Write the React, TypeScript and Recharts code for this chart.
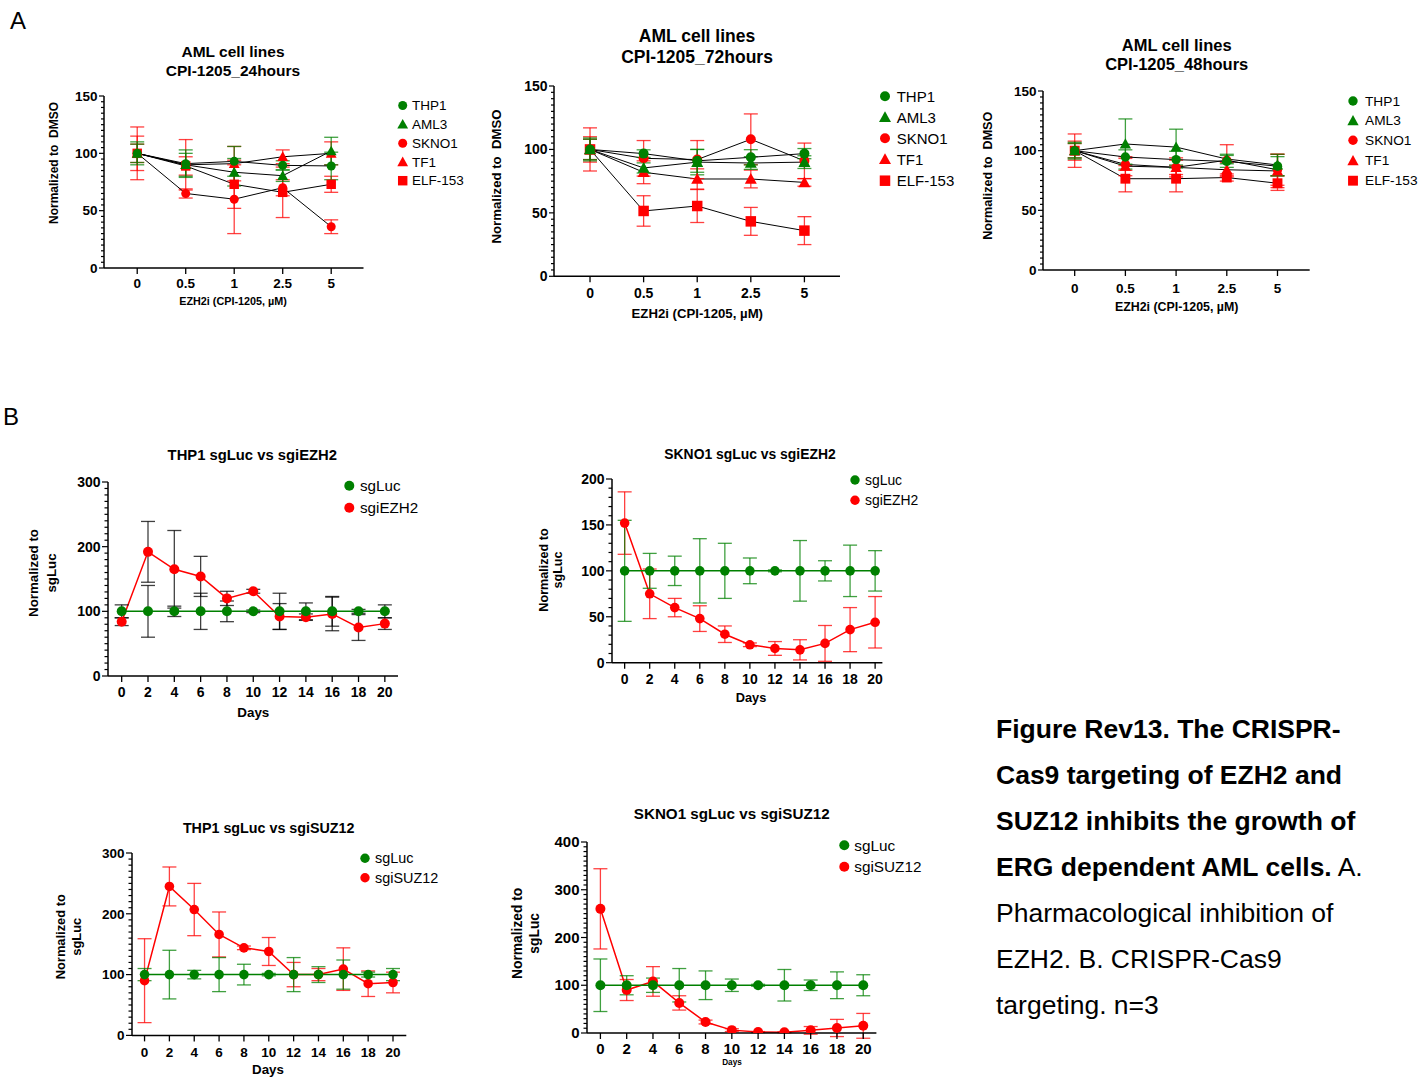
import React from "react";
import { LineChart, Line, XAxis, YAxis, ErrorBar } from "recharts";

const FONT = "'Liberation Sans', Arial, Helvetica, sans-serif";
const GREEN = "#008000";
const RED = "#ff0000";

// ---- A: CPI-1205 dose response ----
const DOSES = ["0", "0.5", "1", "2.5", "5"];
const CELL_LINES = ["THP1", "AML3", "SKNO1", "TF1", "ELF-153"];

const H24_THP1 = [100, 91, 93, 89.5, 89];
const H24_THP1_SD = [10, 12, 13, 4, 12];
const H24_AML3 = [100, 90, 83.5, 80.5, 102];
const H24_AML3_SD = [8, 10, 12, 5, 12];
const H24_SKNO1 = [100, 65, 60, 70, 36];
const H24_SKNO1_SD = [23, 4, 30, 7, 6];
const H24_TF1 = [100, 90, 91, 97, 100];
const H24_TF1_SD = [15, 22, 15, 6, 10];
const H24_ELF = [100, 89, 73, 66, 73];
const H24_ELF_SD = [8, 8, 21, 22, 7];

const H72_THP1 = [100, 96.7, 91, 93.8, 96.7];
const H72_THP1_SD = [8, 3, 9, 6, 4];
const H72_AML3 = [100, 85.4, 90, 89.3, 90];
const H72_AML3_SD = [9, 4, 10, 5, 5];
const H72_SKNO1 = [100, 93, 92, 108, 91];
const H72_SKNO1_SD = [17, 14, 15, 20, 14];
const H72_TF1 = [100, 82, 76.7, 76.7, 74];
const H72_TF1_SD = [10, 9, 8, 7, 3];
const H72_ELF = [100, 51.5, 55.4, 43.3, 36];
const H72_ELF_SD = [8, 12, 13, 11, 11];

const H48_THP1 = [100, 94.7, 92.5, 91, 87];
const H48_THP1_SD = [6, 6, 7, 5, 8];
const H48_AML3 = [100, 105.6, 103, 93, 88];
const H48_AML3_SD = [7, 21, 15, 4, 9];
const H48_SKNO1 = [100, 88.5, 86, 92, 84];
const H48_SKNO1_SD = [14, 5, 6, 13, 13];
const H48_TF1 = [100, 87, 86, 84, 83];
const H48_TF1_SD = [8, 8, 8, 6, 14];
const H48_ELF = [100, 76.5, 76.5, 77.5, 72.7];
const H48_ELF_SD = [6, 11, 11, 3, 6];

// ---- B: CRISPR time courses ----
const DAYS = [0, 2, 4, 6, 8, 10, 12, 14, 16, 18, 20];

const THP1_EZH2_LUC = [100, 100, 100, 100, 100, 100, 100, 100, 100, 100, 100];
const THP1_EZH2_LUC_SD = [10, 40, 8, 28, 16, 2, 28, 13, 23, 3, 10];
const THP1_EZH2_SG = [84, 192, 165, 154, 120, 131, 92, 91, 96, 75, 81];
const THP1_EZH2_SG_SD = [6, 47, 60, 31, 11, 3, 20, 5, 26, 20, 9];

const SKNO1_EZH2_LUC = [100, 100, 100, 100, 100, 100, 100, 100, 100, 100, 100];
const SKNO1_EZH2_LUC_SD = [55, 19, 16, 35, 30, 14, 1, 33, 11, 28, 22];
const SKNO1_EZH2_SG = [152, 75, 60, 48, 31, 19.5, 15.5, 14, 21, 36, 44];
const SKNO1_EZH2_SG_SD = [34, 27, 10, 14, 9, 2, 7.5, 11, 19.5, 24, 28];

const THP1_SUZ12_LUC = [100, 100, 100, 100, 100, 100, 100, 100, 100, 100, 100];
const THP1_SUZ12_LUC_SD = [10, 40, 7, 28, 17, 2, 28, 13, 24, 4, 10];
const THP1_SUZ12_SG = [90, 245, 207, 166, 144, 138, 100, 100, 109, 85, 87];
const THP1_SUZ12_SG_SD = [69, 32, 43, 37, 3, 23, 20, 10, 35, 21, 17];

const SKNO1_SUZ12_LUC = [100, 100, 100, 100, 100, 100, 100, 100, 100, 100, 100];
const SKNO1_SUZ12_LUC_SD = [55, 20, 15, 35, 30, 13, 2, 33, 11, 28, 22];
const SKNO1_SUZ12_SG = [260, 90, 108, 63, 23, 6, 2, 1.5, 5.5, 10.5, 15];
const SKNO1_SUZ12_SG_SD = [84, 22, 31, 15, 4, 3, 1, 1, 8, 18, 26];

type Shape = "circle" | "triangle" | "square";
type Style = { color: string; shape: Shape };

const CELL_STYLES: Style[] = [
  { color: GREEN, shape: "circle" },
  { color: GREEN, shape: "triangle" },
  { color: RED, shape: "circle" },
  { color: RED, shape: "triangle" },
  { color: RED, shape: "square" },
];
const SG_STYLES: Style[] = [
  { color: GREEN, shape: "circle" },
  { color: RED, shape: "circle" },
];

function buildRows(xs: number[], vals: number[][], sds: number[][]) {
  return xs.map((x, i) => {
    const row: Record<string, number> = { x };
    vals.forEach((v, k) => {
      row["v" + k] = v[i];
      row["e" + k] = sds[k][i];
    });
    return row;
  });
}

function Marker({ cx, cy, shape, color, r }: { cx: number; cy: number; shape: Shape; color: string; r: number }) {
  if (cx == null || cy == null || isNaN(cx) || isNaN(cy)) return null;
  if (shape === "triangle") {
    const h = r * 1.2;
    return <polygon points={`${cx},${cy - h} ${cx - h},${cy + h * 0.8} ${cx + h},${cy + h * 0.8}`} fill={color} />;
  }
  if (shape === "square") {
    const h = r * 1.05;
    return <rect x={cx - h} y={cy - h} width={2 * h} height={2 * h} fill={color} />;
  }
  return <circle cx={cx} cy={cy} r={r} fill={color} />;
}

function YTick(props: any) {
  const { x, y, payload, major, fontSize, majorLen, minorLen } = props;
  const v = payload.value;
  const isMajor = Math.abs(v % major) < 1e-6;
  const len = isMajor ? majorLen : minorLen;
  return (
    <g>
      <line x1={x - len} x2={x} y1={y} y2={y} stroke="#000" strokeWidth={1.2} />
      {isMajor && (
        <text x={x - len - 1.5} y={y} dy="0.35em" textAnchor="end" fontSize={fontSize} fontWeight="bold" fontFamily={FONT} fill="#000">
          {v}
        </text>
      )}
    </g>
  );
}

type Box = { L: number; T: number; R: number; B: number };

type PlotProps = {
  box: Box;
  xDomain: [number, number];
  xTicks: number[];
  xFmt: (v: number) => string;
  yMax: number;
  yStep: number;
  yMajor: number;
  tickFont: number;
  tickGap: number;
  majorLen: number;
  minorLen: number;
  rows: Record<string, number>[];
  styles: Style[];
  r: number;
  lineColors: string[];
  lineWidth: number;
  errColors: string[];
};

function Plot(p: PlotProps) {
  const YW = 60, XH = 40, MT = 8, MR = 8;
  const w = p.box.R - p.box.L;
  const h = p.box.B - p.box.T;
  const yTicks: number[] = [];
  for (let v = 0; v <= p.yMax + 1e-6; v += p.yStep) yTicks.push(v);
  const order = p.styles.map((_, i) => i).reverse();
  return (
    <div style={{ position: "absolute", left: p.box.L - YW, top: p.box.T - MT }}>
      <LineChart width={w + YW + MR} height={h + MT + XH} data={p.rows} margin={{ top: MT, right: MR, left: 0, bottom: 0 }}>
        <XAxis
          type="number"
          dataKey="x"
          domain={p.xDomain}
          allowDataOverflow
          ticks={p.xTicks}
          interval={0}
          tickFormatter={p.xFmt}
          height={XH}
          axisLine={{ stroke: "#000", strokeWidth: 1.5 }}
          tickLine={{ stroke: "#000", strokeWidth: 1.3 }}
          tickSize={6}
          tickMargin={p.tickGap}
          tick={{ fill: "#000", fontSize: p.tickFont, fontWeight: "bold", fontFamily: FONT }}
        />
        <YAxis
          type="number"
          domain={[0, p.yMax]}
          allowDataOverflow
          ticks={yTicks}
          interval={0}
          width={YW}
          axisLine={{ stroke: "#000", strokeWidth: 1.5 }}
          tickLine={false}
          tickSize={0}
          tickMargin={0}
          tick={(t: any) => (
            <YTick {...t} major={p.yMajor} fontSize={p.tickFont} majorLen={p.majorLen} minorLen={p.minorLen} />
          )}
        />
        {order.map((k) => (
          <Line
            key={"l" + k}
            dataKey={"v" + k}
            stroke={p.lineColors[k]}
            strokeWidth={p.lineWidth}
            dot={false}
            activeDot={false}
            isAnimationActive={false}
          >
            <ErrorBar
              dataKey={"e" + k}
              width={7}
              stroke={p.errColors[k]}
              strokeWidth={1.3}
              strokeOpacity={0.75}
              direction="y"
              isAnimationActive={false}
            />
          </Line>
        ))}
        {order.map((k) => (
          <Line
            key={"d" + k}
            dataKey={"v" + k}
            stroke="none"
            strokeWidth={0}
            activeDot={false}
            isAnimationActive={false}
            dot={(d: any) => (
              <Marker key={`m${k}-${d.index}`} cx={d.cx} cy={d.cy} shape={p.styles[k].shape} color={p.styles[k].color} r={p.r} />
            )}
          />
        ))}
      </LineChart>
    </div>
  );
}

function T({ x, y, size, bold = true, anchor = "middle", rotate = false, children }: any) {
  return (
    <text
      x={x}
      y={y}
      dy="0.35em"
      fontSize={size}
      fontWeight={bold ? "bold" : "normal"}
      textAnchor={anchor}
      fontFamily={FONT}
      fill="#000"
      style={{ whiteSpace: "pre" }}
      transform={rotate ? `rotate(-90 ${x} ${y})` : undefined}
    >
      {children}
    </text>
  );
}

function LegendBox({ names, styles, mx, tx, ys, size, r }: { names: string[]; styles: Style[]; mx: number; tx: number; ys: number[]; size: number; r: number }) {
  return (
    <g>
      {names.map((n, i) => (
        <g key={n}>
          <Marker cx={mx} cy={ys[i]} shape={styles[i].shape} color={styles[i].color} r={r} />
          <T x={tx} y={ys[i]} size={size} bold={false} anchor="start">
            {n}
          </T>
        </g>
      ))}
    </g>
  );
}

const doseFmt = (i: number) => DOSES[i] ?? "";
const dayFmt = (d: number) => String(d);
const CELL_LINE_COLORS = ["#000", "#000", "#000", "#000", "#000"];
const CELL_ERR_COLORS = CELL_STYLES.map((s) => s.color);

export default function App() {
  const idx = DOSES.map((_, i) => i);
  const rows24 = buildRows(idx, [H24_THP1, H24_AML3, H24_SKNO1, H24_TF1, H24_ELF], [H24_THP1_SD, H24_AML3_SD, H24_SKNO1_SD, H24_TF1_SD, H24_ELF_SD]);
  const rows72 = buildRows(idx, [H72_THP1, H72_AML3, H72_SKNO1, H72_TF1, H72_ELF], [H72_THP1_SD, H72_AML3_SD, H72_SKNO1_SD, H72_TF1_SD, H72_ELF_SD]);
  const rows48 = buildRows(idx, [H48_THP1, H48_AML3, H48_SKNO1, H48_TF1, H48_ELF], [H48_THP1_SD, H48_AML3_SD, H48_SKNO1_SD, H48_TF1_SD, H48_ELF_SD]);
  const rowsB1 = buildRows(DAYS, [THP1_EZH2_LUC, THP1_EZH2_SG], [THP1_EZH2_LUC_SD, THP1_EZH2_SG_SD]);
  const rowsB2 = buildRows(DAYS, [SKNO1_EZH2_LUC, SKNO1_EZH2_SG], [SKNO1_EZH2_LUC_SD, SKNO1_EZH2_SG_SD]);
  const rowsB3 = buildRows(DAYS, [THP1_SUZ12_LUC, THP1_SUZ12_SG], [THP1_SUZ12_LUC_SD, THP1_SUZ12_SG_SD]);
  const rowsB4 = buildRows(DAYS, [SKNO1_SUZ12_LUC, SKNO1_SUZ12_SG], [SKNO1_SUZ12_LUC_SD, SKNO1_SUZ12_SG_SD]);

  const sgLines = [GREEN, RED];

  return (
    <div style={{ position: "absolute", left: 0, top: 0, width: 1425, height: 1077, background: "#fff", overflow: "hidden", fontFamily: FONT }}>
      <Plot box={{ L: 103.5, T: 95.7, R: 363, B: 267.7 }} xDomain={[-0.685, 4.666]} xTicks={idx} xFmt={doseFmt}
        yMax={150} yStep={5} yMajor={50} tickFont={13.5} tickGap={4} majorLen={5} minorLen={3}
        rows={rows24} styles={CELL_STYLES} r={4.5} lineColors={CELL_LINE_COLORS} lineWidth={1} errColors={CELL_ERR_COLORS} />
      <Plot box={{ L: 554, T: 85.7, R: 840, B: 276 }} xDomain={[-0.672, 4.664]} xTicks={idx} xFmt={doseFmt}
        yMax={150} yStep={5} yMajor={50} tickFont={14} tickGap={6} majorLen={5} minorLen={3}
        rows={rows72} styles={CELL_STYLES} r={5} lineColors={CELL_LINE_COLORS} lineWidth={1} errColors={CELL_ERR_COLORS} />
      <Plot box={{ L: 1043.3, T: 91, R: 1310, B: 270 }} xDomain={[-0.625, 4.635]} xTicks={idx} xFmt={doseFmt}
        yMax={150} yStep={5} yMajor={50} tickFont={13.5} tickGap={7} majorLen={5} minorLen={3}
        rows={rows48} styles={CELL_STYLES} r={4.7} lineColors={CELL_LINE_COLORS} lineWidth={1} errColors={CELL_ERR_COLORS} />

      <Plot box={{ L: 108.3, T: 481.7, R: 398.3, B: 675.7 }} xDomain={[-1.04, 21]} xTicks={DAYS} xFmt={dayFmt}
        yMax={300} yStep={10} yMajor={100} tickFont={14} tickGap={5.5} majorLen={6} minorLen={3.5}
        rows={rowsB1} styles={SG_STYLES} r={5} lineColors={sgLines} lineWidth={1.5} errColors={["#000", "#000"]} />
      <Plot box={{ L: 612.3, T: 479, R: 882.7, B: 662.7 }} xDomain={[-1.01, 20.58]} xTicks={DAYS} xFmt={dayFmt}
        yMax={200} yStep={10} yMajor={50} tickFont={14} tickGap={5.5} majorLen={6} minorLen={3.5}
        rows={rowsB2} styles={SG_STYLES} r={4.8} lineColors={sgLines} lineWidth={1.5} errColors={sgLines} />
      <Plot box={{ L: 131.7, T: 853.3, R: 406, B: 1035.7 }} xDomain={[-1.01, 21.07]} xTicks={DAYS} xFmt={dayFmt}
        yMax={300} yStep={10} yMajor={100} tickFont={13.5} tickGap={6.5} majorLen={6} minorLen={3.5}
        rows={rowsB3} styles={SG_STYLES} r={4.8} lineColors={sgLines} lineWidth={1.5} errColors={sgLines} />
      <Plot box={{ L: 587.3, T: 841.7, R: 876.7, B: 1032.7 }} xDomain={[-1.02, 21]} xTicks={DAYS} xFmt={dayFmt}
        yMax={400} yStep={10} yMajor={100} tickFont={15} tickGap={4.5} majorLen={6} minorLen={3.5}
        rows={rowsB4} styles={SG_STYLES} r={5} lineColors={sgLines} lineWidth={1.5} errColors={sgLines} />

      <svg width={1425} height={1077} style={{ position: "absolute", left: 0, top: 0, pointerEvents: "none" }}>
        <T x={10} y={20.5} size={24} bold={false} anchor="start">A</T>
        <T x={3} y={416.5} size={24} bold={false} anchor="start">B</T>

        {/* A1 */}
        <T x={233} y={52} size={15.5}>AML cell lines</T>
        <T x={233} y={70.5} size={15.5}>CPI-1205_24hours</T>
        <T x={54} y={163} size={12} rotate>Normalized to  DMSO</T>
        <T x={233} y={301.7} size={10.8}>EZH2i (CPI-1205, µM)</T>
        <LegendBox names={CELL_LINES} styles={CELL_STYLES} mx={402.7} tx={412} ys={[105.5, 124.3, 143.3, 162, 180.7]} size={13.5} r={4.5} />

        {/* A2 */}
        <T x={697} y={36} size={17.5}>AML cell lines</T>
        <T x={697} y={56.7} size={17.5}>CPI-1205_72hours</T>
        <T x={496.7} y={176.5} size={13.2} rotate>Normalized to  DMSO</T>
        <T x={697.3} y={313} size={13.2}>EZH2i (CPI-1205, µM)</T>
        <LegendBox names={CELL_LINES} styles={CELL_STYLES} mx={885} tx={896.7} ys={[96.3, 117.3, 138.3, 159.3, 180.7]} size={15} r={5} />

        {/* A3 */}
        <T x={1176.7} y={45.3} size={16.5}>AML cell lines</T>
        <T x={1176.7} y={64.3} size={16.5}>CPI-1205_48hours</T>
        <T x={987.3} y={175.7} size={12.6} rotate>Normalized to  DMSO</T>
        <T x={1176.7} y={306.7} size={12.4}>EZH2i (CPI-1205, µM)</T>
        <LegendBox names={CELL_LINES} styles={CELL_STYLES} mx={1353} tx={1365} ys={[101, 120.7, 140.3, 160.7, 180.7]} size={13.7} r={4.7} />

        {/* B1 */}
        <T x={252.3} y={455} size={14.8}>THP1 sgLuc vs sgiEZH2</T>
        <T x={33.3} y={573} size={13.3} rotate>Normalized to</T>
        <T x={51.7} y={573} size={13.3} rotate>sgLuc</T>
        <T x={253.3} y={712.7} size={13.4}>Days</T>
        <LegendBox names={["sgLuc", "sgiEZH2"]} styles={SG_STYLES} mx={349.3} tx={360} ys={[485.7, 507.7]} size={15.2} r={5} />

        {/* B2 */}
        <T x={750} y={454.3} size={13.9}>SKNO1 sgLuc vs sgiEZH2</T>
        <T x={543.3} y={570} size={12.6} rotate>Normalized to</T>
        <T x={557.3} y={570} size={12.6} rotate>sgLuc</T>
        <T x={751} y={697.7} size={12.8}>Days</T>
        <LegendBox names={["sgLuc", "sgiEZH2"]} styles={SG_STYLES} mx={855} tx={865} ys={[480, 500.3]} size={13.9} r={4.7} />

        {/* B3 */}
        <T x={268.7} y={828.3} size={14.3}>THP1 sgLuc vs sgiSUZ12</T>
        <T x={60.7} y={936.7} size={12.9} rotate>Normalized to</T>
        <T x={76} y={936.7} size={12.9} rotate>sgLuc</T>
        <T x={268} y={1069.3} size={13.3}>Days</T>
        <LegendBox names={["sgLuc", "sgiSUZ12"]} styles={SG_STYLES} mx={365} tx={375} ys={[858.3, 877.7]} size={14.4} r={4.7} />

        {/* B4 */}
        <T x={731.7} y={814} size={15.2}>SKNO1 sgLuc vs sgiSUZ12</T>
        <T x={516.7} y={933.3} size={13.8} rotate>Normalized to</T>
        <T x={534} y={933.3} size={13.8} rotate>sgLuc</T>
        <T x={732} y={1062.3} size={8.2}>Days</T>
        <LegendBox names={["sgLuc", "sgiSUZ12"]} styles={SG_STYLES} mx={844.3} tx={854.3} ys={[845.3, 866.7]} size={15.3} r={5} />

        {/* caption */}
        <T x={996} y={729} size={26.5} anchor="start">Figure Rev13. The CRISPR-</T>
        <T x={996} y={775} size={26.5} anchor="start">Cas9 targeting of EZH2 and</T>
        <T x={996} y={821} size={26.5} anchor="start">SUZ12 inhibits the growth of</T>
        <text x={996} y={867} dy="0.35em" fontSize={26.5} fontFamily={FONT} fill="#000">
          <tspan fontWeight="bold">ERG dependent AML cells.</tspan>
          <tspan> A.</tspan>
        </text>
        <T x={996} y={913} size={26.5} bold={false} anchor="start">Pharmacological inhibition of</T>
        <T x={996} y={959} size={26.5} bold={false} anchor="start">EZH2. B. CRISPR-Cas9</T>
        <T x={996} y={1005} size={26.5} bold={false} anchor="start">targeting. n=3</T>
      </svg>
    </div>
  );
}
